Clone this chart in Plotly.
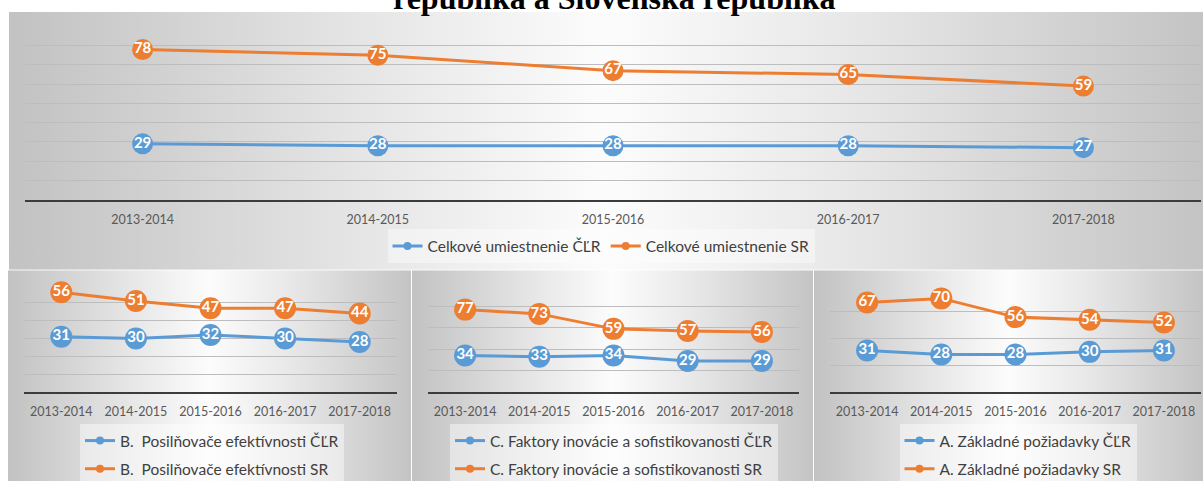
import plotly.graph_objects as go

# ---------------- data ----------------
categories = ["2013-2014", "2014-2015", "2015-2016", "2016-2017", "2017-2018"]

celkove_clr = [29, 28, 28, 28, 27]
celkove_sr = [78, 75, 67, 65, 59]

posil_clr = [31, 30, 32, 30, 28]
posil_sr = [56, 51, 47, 47, 44]

faktory_clr = [34, 33, 34, 29, 29]
faktory_sr = [77, 73, 59, 57, 56]

zaklad_clr = [31, 28, 28, 30, 31]
zaklad_sr = [67, 70, 56, 54, 52]

names_celkove = ["Celkové umiestnenie ČĽR", "Celkové umiestnenie SR"]
names_posil = ["B.\u00a0 Posilňovače efektívnosti ČĽR", "B.\u00a0 Posilňovače efektívnosti SR"]
names_faktory = ["C. Faktory inovácie a sofistikovanosti ČĽR", "C. Faktory inovácie a sofistikovanosti SR"]
names_zaklad = ["A. Základné požiadavky ČĽR", "A. Základné požiadavky SR"]

title_text = "republika a Slovenská republika"

# ---------------- styling / geometry ----------------
W, H = 1203, 486
BLUE = "#5b9bd5"
ORANGE = "#ed7d31"
FONT = "Lato"


def dx(a, b):
    return [a / W, b / W]


def dy(top, bottom):
    return [1 - bottom / H, 1 - top / H]


fig = go.Figure()

# background panels (gradient fills on hidden unit axes)
bg_boxes = [(9, 1203, 12, 272.5), (8, 411, 273, 486), (412, 813, 273, 486), (814, 1203, 273, 486)]
bg_scale = [[0, "#c2c2c2"], [0.3, "#e6e6e6"], [0.5, "#fcfcfc"], [0.7, "#e8e8e8"], [1, "#c4c4c4"]]
for i, (x0, x1, y0, y1) in enumerate(bg_boxes, start=1):
    s = "" if i == 1 else str(i)
    fig.add_trace(go.Scatter(
        x=[0, 1, 1, 0, 0], y=[0, 0, 1, 1, 0], mode="lines", fill="toself",
        line=dict(width=0), fillgradient=dict(type="horizontal", colorscale=bg_scale),
        xaxis="x" + s, yaxis="y" + s, showlegend=False, hoverinfo="skip"))
    fig.update_layout(**{
        "xaxis" + s: dict(domain=dx(x0, x1), range=[0, 1], visible=False, anchor="y" + s),
        "yaxis" + s: dict(domain=dy(y0, y1), range=[0, 1], visible=False, anchor="x" + s),
    })

panels = [
    dict(s="5", xd=(25, 1201), yd=(26.7, 201.7), yr=[0, 90], dtick=10,
         clr=celkove_clr, sr=celkove_sr, names=names_celkove, legend="legend", msize=21),
    dict(s="6", xd=(24, 397), yd=(288, 396), yr=[0, 60], dtick=10,
         clr=posil_clr, sr=posil_sr, names=names_posil, legend="legend2", msize=22),
    dict(s="7", xd=(428, 799), yd=(288, 396), yr=[0, 100], dtick=20,
         clr=faktory_clr, sr=faktory_sr, names=names_faktory, legend="legend3", msize=22),
    dict(s="8", xd=(830, 1201), yd=(288, 396), yr=[0, 80], dtick=20,
         clr=zaklad_clr, sr=zaklad_sr, names=names_zaklad, legend="legend4", msize=22),
]

for p in panels:
    s = p["s"]
    for vals, color, name in ((p["clr"], BLUE, p["names"][0]), (p["sr"], ORANGE, p["names"][1])):
        fig.add_trace(go.Scatter(
            x=categories, y=vals, mode="lines+markers+text",
            text=[str(v) for v in vals], textposition="middle center",
            textfont=dict(family=FONT, size=15, color="white", weight="bold"),
            marker=dict(size=p["msize"], color=color),
            line=dict(color=color, width=3),
            cliponaxis=False, showlegend=False, hoverinfo="skip",
            xaxis="x" + s, yaxis="y" + s))
        # legend entry
        fig.add_trace(go.Scatter(
            x=[None], y=[None], mode="lines+markers", name=name,
            marker=dict(size=8, color=color), line=dict(color=color, width=3),
            legend=p["legend"], legendgroup=p["legend"] + name,
            xaxis="x" + s, yaxis="y" + s))
    fig.update_layout(**{
        "xaxis" + s: dict(domain=dx(*p["xd"]), anchor="y" + s, type="category",
                          categoryorder="array", categoryarray=categories,
                          range=[-0.5, 4.5], showgrid=False, zeroline=False,
                          showline=True, linecolor="#3c3c3c", linewidth=2,
                          ticks="outside", ticklen=7, tickcolor="rgba(0,0,0,0)",
                          tickfont=dict(family=FONT, size=12.5, color="#595959")),
        "yaxis" + s: dict(domain=dy(*p["yd"]), anchor="x" + s, range=p["yr"],
                          dtick=p["dtick"], showgrid=True, gridcolor="#bdbdbd",
                          gridwidth=1, zeroline=False, showticklabels=False,
                          showline=False),
    })

legend_common = dict(font=dict(family=FONT, size=15.5, color="#404040"),
                     bgcolor="rgba(255,255,255,0.45)", borderwidth=0)
fig.update_layout(
    legend=dict(orientation="h", x=601 / W, xanchor="center", y=1 - 249 / H, yanchor="middle",
                font=dict(family=FONT, size=15.5, color="#404040"),
                bgcolor="rgba(255,255,255,0.4)", borderwidth=0),
    legend2=dict(orientation="v", x=212 / W, xanchor="center", y=1 - 460 / H, yanchor="middle",
                 tracegroupgap=5, **legend_common),
    legend3=dict(orientation="v", x=614 / W, xanchor="center", y=1 - 460 / H, yanchor="middle",
                 tracegroupgap=5, **legend_common),
    legend4=dict(orientation="v", x=1018 / W, xanchor="center", y=1 - 460 / H, yanchor="middle",
                 tracegroupgap=5, **legend_common),
)

fig.add_annotation(
    text="<b>" + title_text + "</b>", xref="paper", yref="paper",
    x=614 / W, y=1 + 2 / H, xanchor="center", yanchor="middle", showarrow=False,
    font=dict(family="Liberation Serif", size=32, color="black"))

fig.update_layout(
    width=W, height=H, margin=dict(l=0, r=0, t=0, b=0),
    paper_bgcolor="white", plot_bgcolor="rgba(0,0,0,0)",
    showlegend=True, hovermode=False,
)

fig.write_html("out.html")
